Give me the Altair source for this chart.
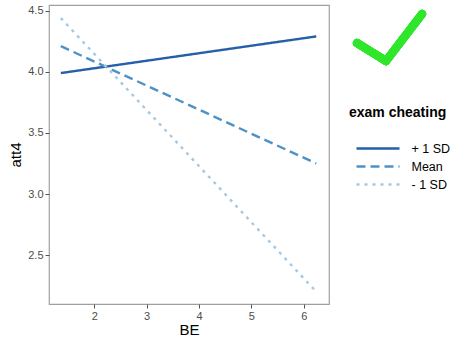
import altair as alt
import pandas as pd

groups = ["+ 1 SD", "Mean", "- 1 SD"]
be_values = [1.36, 6.24]
att4_plus = [3.99, 4.29]
att4_mean = [4.21, 3.25]
att4_minus = [4.44, 2.20]

rows = []
for g, ys in zip(groups, [att4_plus, att4_mean, att4_minus]):
    for x, y in zip(be_values, ys):
        rows.append({"BE": x, "att4": y, "group": g})
df = pd.DataFrame(rows)

colors = ["#2360a8", "#4d92c7", "#a6c9e2"]
dashes = [[1, 0], [9, 5], [3, 5]]

lines = alt.Chart(df).mark_line(strokeWidth=2.4).encode(
    x=alt.X("BE:Q", scale=alt.Scale(domain=[1.134, 6.483], nice=False, zero=False),
            axis=alt.Axis(values=[2, 3, 4, 5, 6], format="d", title="BE")),
    y=alt.Y("att4:Q", scale=alt.Scale(domain=[2.10, 4.547], nice=False, zero=False),
            axis=alt.Axis(values=[2.5, 3.0, 3.5, 4.0, 4.5], format=".1f", title="att4")),
    color=alt.Color("group:N", scale=alt.Scale(domain=groups, range=colors),
                    sort=groups, title="exam cheating"),
    strokeDash=alt.StrokeDash("group:N", scale=alt.Scale(domain=groups, range=dashes),
                              sort=groups, title="exam cheating"),
    detail="group:N",
)

check_color = "#2ee62a"
arm1 = alt.Chart(df).mark_rule(color=check_color, strokeWidth=8, strokeCap="round").encode(
    x=alt.value(308), y=alt.value(38), x2=alt.value(337), y2=alt.value(56))
arm2 = alt.Chart(df).mark_rule(color=check_color, strokeWidth=8, strokeCap="round").encode(
    x=alt.value(337), y=alt.value(56), x2=alt.value(373), y2=alt.value(9))

chart = alt.layer(lines, arm1, arm2).properties(
    width=280, height=299,
    autosize=alt.AutoSizeParams(type="none"),
    padding={"left": 49, "top": 5, "right": 126, "bottom": 43},
    background="white",
).configure_view(
    stroke="#a0a0a0", strokeWidth=1.2, fill="white"
).configure_axis(
    domain=False, grid=False, tickColor="#555555", tickSize=4, tickWidth=1,
    labelColor="#4d4d4d", labelFont="Liberation Sans", labelFontSize=11,
    labelPadding=2, titleFont="Liberation Sans", titleFontSize=15,
    titleFontWeight="normal", titleColor="black",
).configure_axisX(titlePadding=1).configure_axisY(titlePadding=4).configure_legend(
    orient="none", legendX=300, legendY=101,
    titleFont="Liberation Sans", titleFontSize=14, titleFontWeight="bold", titleColor="black",
    labelFont="Liberation Sans", labelFontSize=12.5, labelColor="black",
    symbolType="M-4.3,0H4.3", symbolSize=100, symbolStrokeWidth=2.4,
    symbolFillColor="transparent",
    symbolOffset=22.5, labelOffset=27, rowPadding=5, titlePadding=22,
)

chart.save("out.html", embed_options={"renderer": "svg", "actions": False})
